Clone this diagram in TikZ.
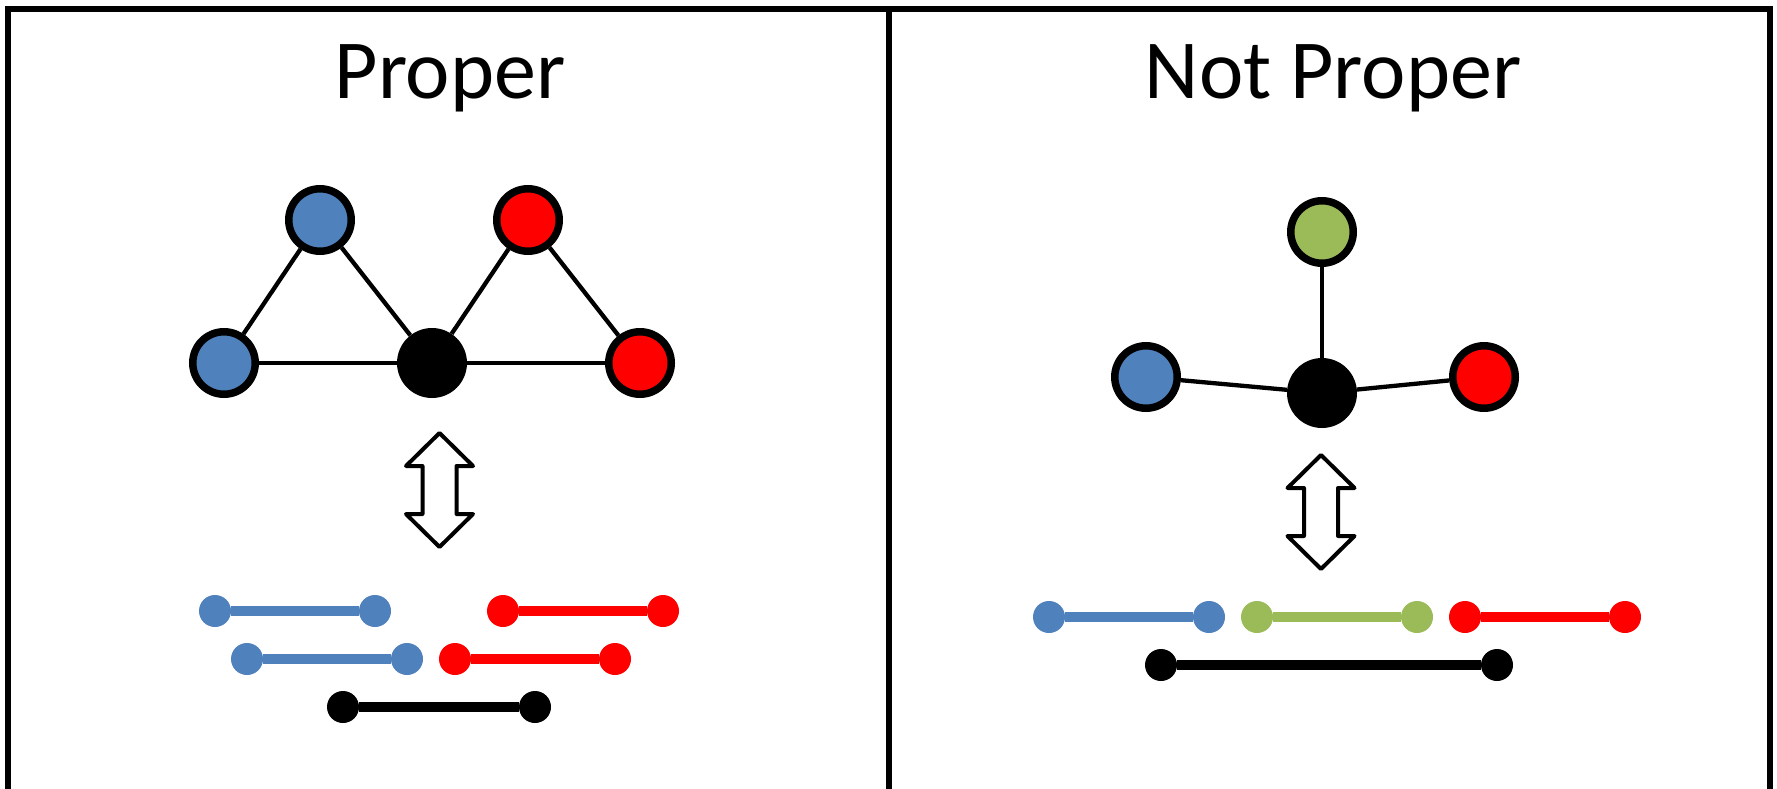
\documentclass[tikz,border=0pt]{standalone}
\usepackage{fontspec}
\setmainfont{Carlito}
\definecolor{cblue}{HTML}{4F81BD}
\definecolor{cred}{HTML}{FF0000}
\definecolor{cgreen}{HTML}{9BBB59}
\tikzset{
  vtx/.style={circle, draw=black, line width=7.5pt, minimum size=62.5pt, inner sep=0pt, fill=#1},
  blk/.style={circle, fill=black, minimum size=70pt, inner sep=0pt},
  edge/.style={line width=4.3pt},
  dot/.style={circle, fill=#1, minimum size=32pt, inner sep=0pt},
  ival/.style={line width=10.5pt, draw=#1},
  title/.style={font=\fontsize{84}{90}\selectfont, anchor=base, inner sep=0pt},
  frame/.style={line width=5.5pt},
  pics/dblarrow/.style={code={
    \draw[line width=4pt, line join=round, fill=white]
      (0,-57) -- (33.5,-24) -- (17,-24) -- (17,24) -- (33.5,24) -- (0,57)
      -- (-33.5,24) -- (-17,24) -- (-17,-24) -- (-33.5,-24) -- cycle;
  }}
}
\begin{document}
\begin{tikzpicture}[x=1pt,y=-1pt]
\useasboundingbox (0,0) rectangle (1777,789);
\fill[white] (0,0) rectangle (1777,789);
% frame
\draw[frame] (8,800) -- (8,9) -- (1770,9) -- (1770,800);
\draw[frame] (889,9) -- (889,800);
% titles
\node[title] (t1) at (450,99) {Proper};
\node[title] (t2) at (1333,99) {Not Proper};
% left graph
\node[vtx=cblue] (lb1) at (224,363) {};
\node[vtx=cblue] (lb2) at (320,220) {};
\node[blk] (lk) at (432,363) {};
\node[vtx=cred] (lr1) at (528,220) {};
\node[vtx=cred] (lr2) at (640,363) {};
\draw[edge] (lb1) -- (lb2);
\draw[edge] (lb2) -- (lk);
\draw[edge] (lb1) -- (lk);
\draw[edge] (lk) -- (lr1);
\draw[edge] (lr1) -- (lr2);
\draw[edge] (lk) -- (lr2);
% right graph
\node[vtx=cgreen] (rg) at (1322,232) {};
\node[vtx=cblue] (rb) at (1146,377) {};
\node[blk] (rk) at (1322,393) {};
\node[vtx=cred] (rr) at (1484,377) {};
\draw[edge] (rg) -- (rk);
\draw[edge] (rb) -- (rk);
\draw[edge] (rr) -- (rk);
% arrows
\pic at (439.5,490) {dblarrow};
\pic at (1321,512) {dblarrow};
% left intervals
\node[dot=cblue] (a1) at (215,611) {};
\node[dot=cblue] (a2) at (375,611) {};
\node[dot=cred] (b1) at (503,611) {};
\node[dot=cred] (b2) at (663,611) {};
\node[dot=cblue] (c1) at (247,659) {};
\node[dot=cblue] (c2) at (407,659) {};
\node[dot=cred] (d1) at (455,659) {};
\node[dot=cred] (d2) at (615,659) {};
\node[dot=black] (e1) at (343,707) {};
\node[dot=black] (e2) at (535,707) {};
\draw[ival=cblue] (a1) -- (a2);
\draw[ival=cred] (b1) -- (b2);
\draw[ival=cblue] (c1) -- (c2);
\draw[ival=cred] (d1) -- (d2);
\draw[ival=black] (e1) -- (e2);
% right intervals
\node[dot=cblue] (f1) at (1049,617) {};
\node[dot=cblue] (f2) at (1209,617) {};
\node[dot=cgreen] (g1) at (1257,617) {};
\node[dot=cgreen] (g2) at (1417,617) {};
\node[dot=cred] (h1) at (1465,617) {};
\node[dot=cred] (h2) at (1625,617) {};
\node[dot=black] (k1) at (1161,665) {};
\node[dot=black] (k2) at (1497,665) {};
\draw[ival=cblue] (f1) -- (f2);
\draw[ival=cgreen] (g1) -- (g2);
\draw[ival=cred] (h1) -- (h2);
\draw[ival=black] (k1) -- (k2);
\end{tikzpicture}
\end{document}
